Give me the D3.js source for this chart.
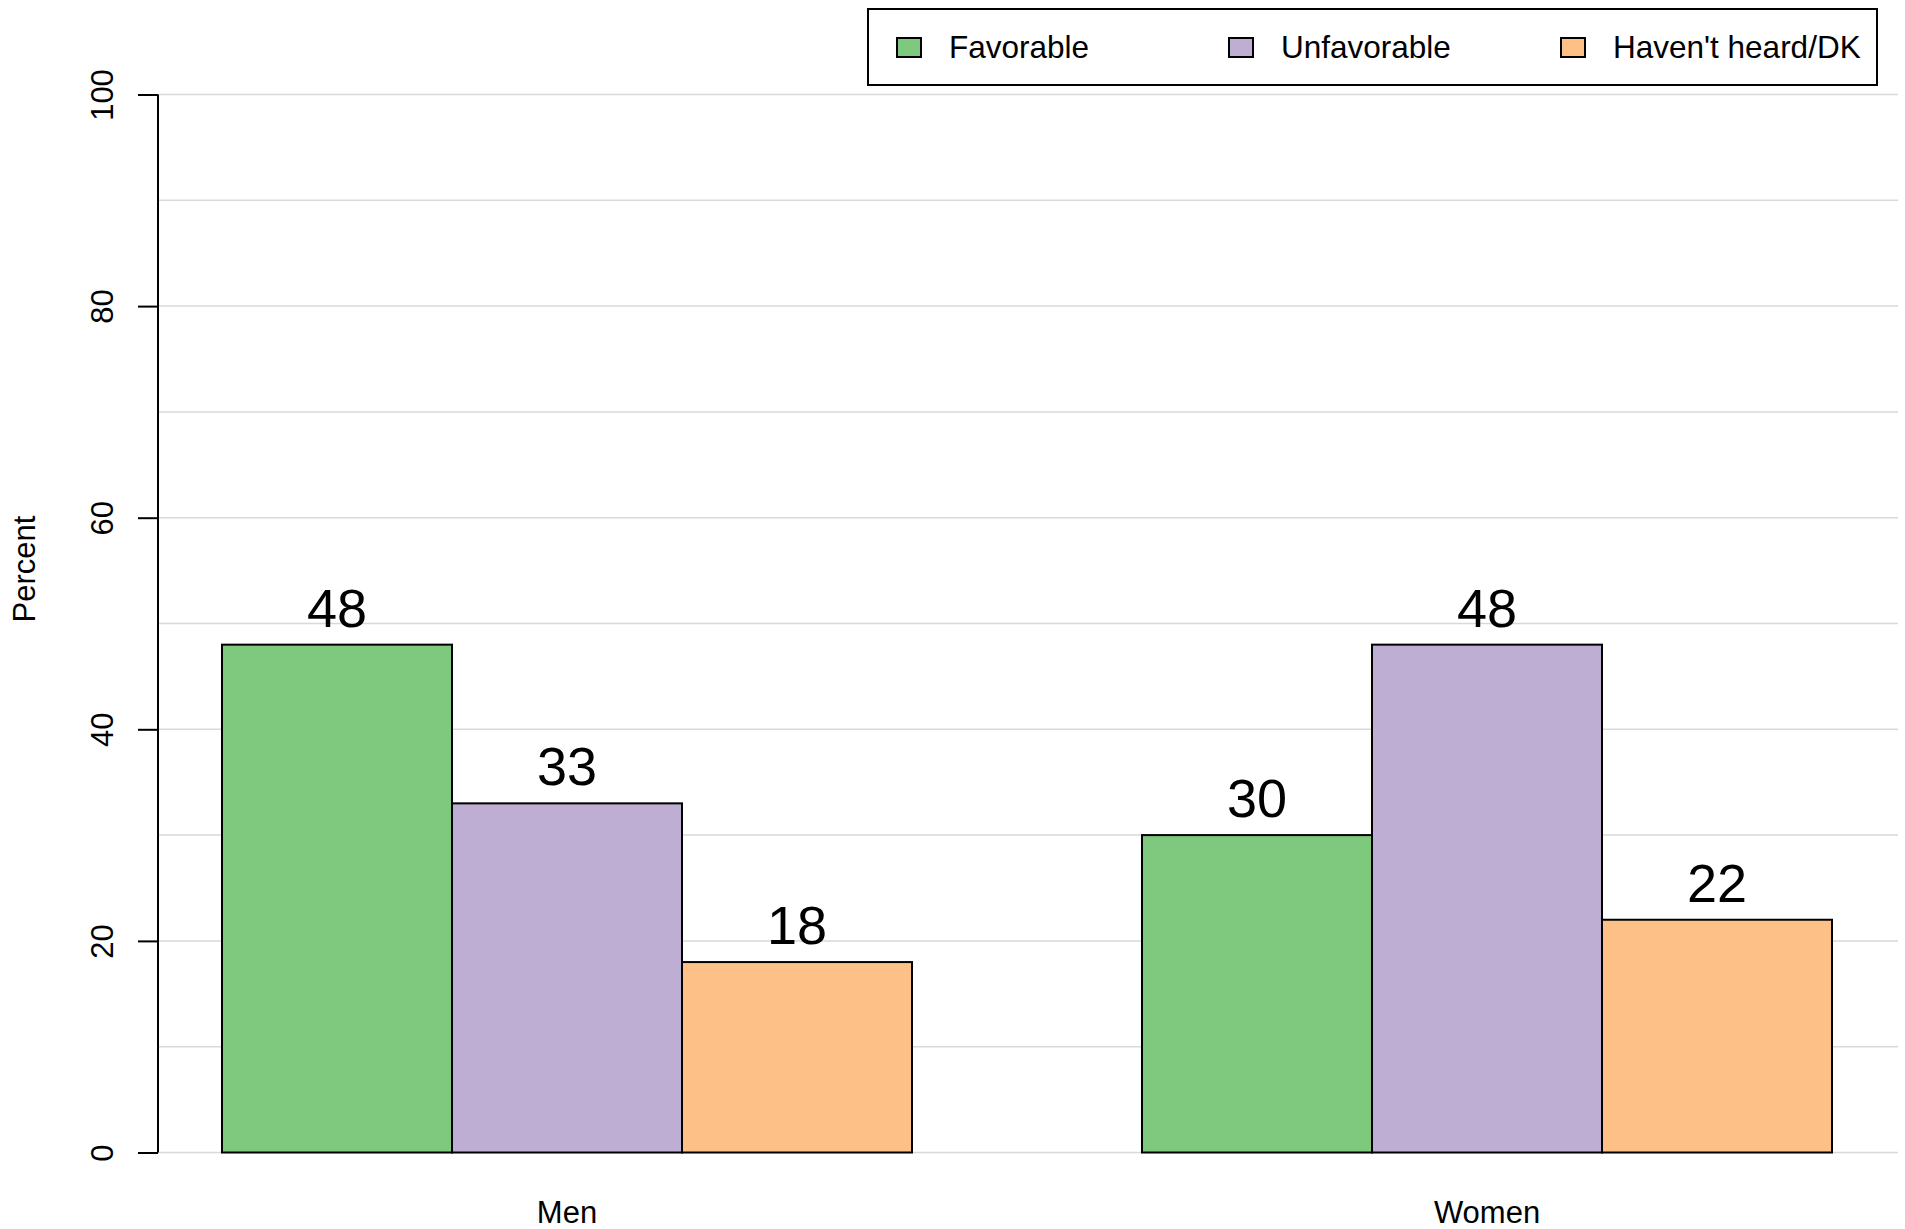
<!DOCTYPE html>
<html>
<head>
<meta charset="utf-8">
<script src="https://cdn.jsdelivr.net/npm/d3@7"></script>
<style>
  html, body { margin: 0; padding: 0; background: #fff; }
  svg { display: block; font-family: "Liberation Sans", Arial, Helvetica, sans-serif; }
</style>
</head>
<body>
<svg id="chart" width="1905" height="1229"></svg>
<script>
// ---- data ----
const groups = ["Men", "Women"];
const seriesNames = ["Favorable", "Unfavorable", "Haven't heard/DK"];
const favorable = [48, 30];
const unfavorable = [33, 48];
const haventHeard = [18, 22];
const seriesColors = ["#7FC97F", "#BEAED4", "#FDC086"];
const yTicks = [0, 20, 40, 60, 80, 100];
const gridValues = [0, 10, 20, 30, 40, 50, 60, 70, 80, 90, 100];
const yLabel = "Percent";

const seriesValues = [favorable, unfavorable, haventHeard];
const table = groups.map((g, gi) => ({
  group: g,
  values: seriesNames.map((s, si) => ({ series: s, si, value: seriesValues[si][gi] }))
}));

const svg = d3.select("#chart");

const axisX = 158, plotRight = 1898;
const y = d3.scaleLinear().domain([0, 100]).range([1152.5, 94.5]);
const x0 = d3.scaleBand().domain(groups).range([222, 1832]).paddingInner(0.25).paddingOuter(0);
const x1 = d3.scaleBand().domain(seriesNames).range([0, x0.bandwidth()]).padding(0);

// gridlines
svg.append("g").selectAll("line").data(gridValues).join("line")
  .attr("x1", axisX).attr("x2", plotRight)
  .attr("y1", d => y(d)).attr("y2", d => y(d))
  .attr("stroke", "#d9d9d9").attr("stroke-width", 1.5);

// bars
const gGroups = svg.append("g").selectAll("g").data(table).join("g")
  .attr("transform", d => `translate(${x0(d.group)},0)`);

gGroups.selectAll("rect").data(d => d.values).join("rect")
  .attr("x", d => x1(d.series))
  .attr("y", d => y(d.value))
  .attr("width", x1.bandwidth())
  .attr("height", d => y(0) - y(d.value))
  .attr("fill", d => seriesColors[d.si])
  .attr("stroke", "#000").attr("stroke-width", 2);

gGroups.selectAll("text").data(d => d.values).join("text")
  .attr("x", d => x1(d.series) + x1.bandwidth() / 2)
  .attr("y", d => y(d.value) - 18)
  .attr("text-anchor", "middle")
  .attr("font-size", 54)
  .attr("fill", "#000")
  .text(d => d.value);

// y axis
const yAxis = d3.axisLeft(y).tickValues(yTicks).tickSize(20).tickPadding(0).tickFormat(d3.format("d"));
const ga = svg.append("g").attr("transform", `translate(${axisX},0)`).call(yAxis);
ga.select(".domain").attr("stroke", "#000").attr("stroke-width", 2)
  .attr("d", `M0,${y(0)}V${y(100)}`);
ga.selectAll(".tick line").attr("stroke", "#000").attr("stroke-width", 2);
ga.selectAll(".tick text")
  .attr("font-size", 31)
  .attr("font-family", "Liberation Sans, Arial, sans-serif")
  .attr("fill", "#000")
  .attr("text-anchor", "middle")
  .attr("dy", 0)
  .attr("x", 0).attr("y", 0)
  .attr("transform", d => `translate(${113 - axisX},0) rotate(-90)`);

// y label
svg.append("text")
  .attr("transform", `translate(35,569) rotate(-90)`)
  .attr("text-anchor", "middle")
  .attr("font-size", 31)
  .text(yLabel);

// x labels
svg.append("g").selectAll("text").data(groups).join("text")
  .attr("x", d => x0(d) + x0.bandwidth() / 2)
  .attr("y", 1223)
  .attr("text-anchor", "middle")
  .attr("font-size", 31)
  .text(d => d);

// legend
const lg = svg.append("g");
lg.append("rect").attr("x", 868).attr("y", 9).attr("width", 1009).attr("height", 76)
  .attr("fill", "#fff").attr("stroke", "#000").attr("stroke-width", 2);
const items = lg.selectAll("g.item").data(seriesNames).join("g").attr("class", "item")
  .attr("transform", (d, i) => `translate(${897 + i * 332},0)`);
items.append("rect").attr("x", 0).attr("y", 38).attr("width", 24).attr("height", 19)
  .attr("fill", (d, i) => seriesColors[i]).attr("stroke", "#000").attr("stroke-width", 2);
items.append("text").attr("x", 52).attr("y", 58).attr("font-size", 31.5).text(d => d);
</script>
</body>
</html>
